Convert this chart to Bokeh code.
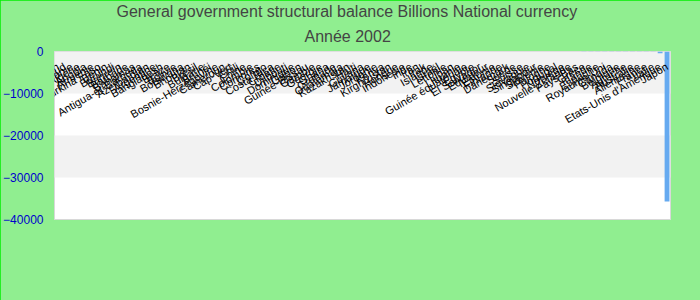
import math
from bokeh.plotting import figure
from bokeh.models import FactorRange, ColumnDataSource, Title, BoxAnnotation
from bokeh.embed import file_html
from bokeh.resources import INLINE

countries = [
    "Afghanistan", "Afrique du Sud", "Albanie", "Algérie", "Angola", "Arménie",
    "Burkina Faso", "Bénin", "Burundi", "Bahreïn", "Barbade", "Bahamas",
    "Antigua-et-Barbuda", "Azerbaïdjan", "Argentine", "Bangladesh", "Belize",
    "Bolivie", "Botswana", "Bhoutan", "Brésil", "Bulgarie", "Brunéi",
    "Bosnie-Herzégovine", "Cameroun", "Cap-Vert", "Chili", "Chine", "Colombie",
    "Comores", "Congo", "Costa Rica", "Croatie", "Djibouti", "Dominique", "Gabon",
    "Guinée-Bissau", "Gambie", "Géorgie", "Ghana", "Grenade", "Guatemala",
    "Kazakhstan", "Haïti", "Guyana", "Jamaïque", "Jordanie", "Kenya",
    "Kirghizistan", "Hongrie", "Indonésie", "Inde", "Iran", "Irak", "Islande",
    "Israël", "Lettonie", "Liban", "Lituanie", "Guinée équatoriale", "Égypte",
    "El Salvador", "Equateur", "Estonie", "Finlande", "Danemark", "Suède",
    "Suisse", "Slovaquie", "Singapour", "Slovénie", "Pologne", "Portugal",
    "Norvège", "Nouvelle-Zélande", "Pays-Bas", "Grèce", "Irlande", "Espagne",
    "Royaume-Uni", "Canada", "Belgique", "Autriche", "Australie", "Allemagne",
    "France", "Italie", "Etats-Unis d'Amérique", "Japon",
]

values = [
    0.9, 0.8, 0.7, 0.6, 0.5, 0.4,
    0.3, 0.2, 0.1, 0.05, 0.0, 0.0,
    -0.01, -0.02, -0.03, -0.05, -0.06,
    -0.08, -0.1, -0.12, -0.15, -0.2, -0.25,
    -0.3, -0.35, -0.4, -0.5, -0.6, -0.7,
    -0.8, -0.9, -1.0, -1.2, -1.4, -1.6, -1.8,
    -2.0, -2.2, -2.5, -2.8, -3.0, -3.3,
    -3.6, -4.0, -4.4, -4.8, -5.2, -5.6,
    -6.0, -6.5, -7.0, -7.5, -8.0, -8.5, -9.0,
    -9.5, -10.0, -11.0, -12.0, -13.0, -14.0,
    -15.0, -16.0, -17.0, -18.0, -19.0, -20.0,
    -21.0, -22.0, -23.0, -24.0, -25.0, -26.0,
    -27.0, -28.0, -29.0, -30.0, -32.0, -34.0,
    -36.0, -38.0, -40.0, -42.0, -45.0, -50.0,
    -55.0, -60.0, -400.0, -35700.0,
]

y_ticks = [0, -10000, -20000, -30000, -40000]

source = ColumnDataSource(data=dict(country=countries, value=values))

p = figure(
    width=700, height=300,
    x_range=FactorRange(*countries, range_padding=0),
    y_range=(y_ticks[-1], y_ticks[0]),
    output_backend="svg", toolbar_location=None,
    min_border_left=50, min_border_right=30, min_border_bottom=81, min_border_top=1,
)
p.background_fill_color = "white"
p.border_fill_color = "#90EE90"
p.outline_line_color = "#d8d8d8"
p.styles = {"outline": "1px solid #00ee00", "outline-offset": "-1px"}

p.add_layout(Title(text="Année 2002", align="left", text_font="Liberation Sans",
                   text_font_size="16px", text_font_style="normal",
                   text_color="#444444", offset=250, standoff=13), "above")
p.add_layout(Title(text="General government structural balance Billions National currency",
                   align="left", text_font="Liberation Sans", text_font_size="16px",
                   text_font_style="normal", text_color="#444444", offset=62,
                   standoff=0), "above")

# alternating bands between every other pair of y ticks
for top, bottom in zip(y_ticks[0::2], y_ticks[1::2]):
    p.add_layout(BoxAnnotation(top=top, bottom=bottom, fill_color="#f2f2f2",
                               fill_alpha=1.0, line_color=None, level="underlay"))

p.vbar(x="country", top="value", bottom=0, width=0.7, fill_color="#66aaf0",
       line_color=None, source=source)

p.xgrid.visible = False
p.ygrid.visible = False

xa = p.xaxis[0]
xa.fixed_location = 0
xa.axis_line_color = None
xa.major_tick_line_color = None
xa.minor_tick_line_color = None
xa.major_label_orientation = math.pi / 6
xa.major_label_standoff = 8
xa.major_label_text_font = "Liberation Sans"
xa.major_label_text_font_size = "11px"
xa.major_label_text_color = "black"

p.yaxis.ticker = y_ticks
p.yaxis.axis_line_color = None
p.yaxis.major_tick_line_color = None
p.yaxis.minor_tick_line_color = None
p.yaxis.major_label_text_color = "#0000cc"
p.yaxis.major_label_text_font = "Liberation Sans"
p.yaxis.major_label_text_font_size = "12px"

open("out.html", "w").write(file_html(p, INLINE))
